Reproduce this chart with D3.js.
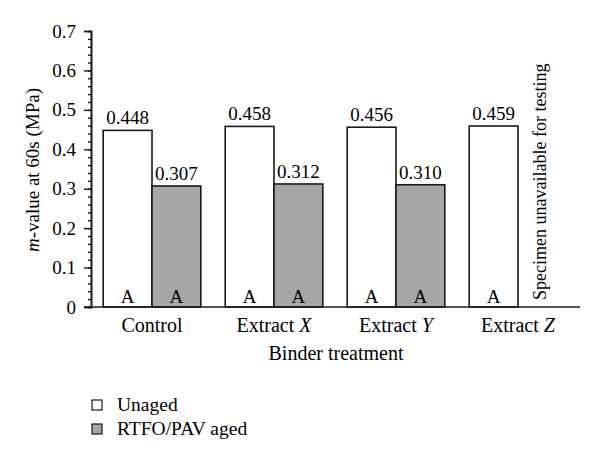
<!DOCTYPE html>
<html>
<head>
<meta charset="utf-8">
<script src="https://cdn.jsdelivr.net/npm/d3@7"></script>
<style>
  body { margin: 0; background: #fff; }
  text { font-family: "Liberation Serif", "DejaVu Serif", serif; fill: #000; }
</style>
</head>
<body>
<script>
// data
var treatments = ['Control', 'Extract X', 'Extract Y', 'Extract Z'];
var treatLetters = ['', 'X', 'Y', 'Z'];
var unaged = [0.448, 0.458, 0.456, 0.459];
var aged = [0.307, 0.312, 0.310, null];
var unagedGroup = ['A', 'A', 'A', 'A'];
var agedGroup = ['A', 'A', 'A', null];
var seriesNames = ['Unaged', 'RTFO/PAV aged'];
var seriesColors = ['#ffffff', '#a6a6a6'];
var yTicks = [0, 0.1, 0.2, 0.3, 0.4, 0.5, 0.6, 0.7];

var W = 600, H = 463;
var svg = d3.select('body').append('svg')
    .attr('width', W)
    .attr('height', H);

var x = d3.scaleBand()
    .domain(treatments)
    .range([91, 579])
    .paddingInner(0.2)
    .paddingOuter(0.1);

var xs = d3.scaleBand()
    .domain([0, 1])
    .range([0, x.bandwidth()]);

var y = d3.scaleLinear()
    .domain([0, 0.7])
    .range([307, 31]);

// bars
var rows = [];
treatments.forEach(function (t, i) {
    rows.push({ t: t, s: 0, v: unaged[i], g: unagedGroup[i] });
    if (aged[i] !== null) rows.push({ t: t, s: 1, v: aged[i], g: agedGroup[i] });
});

svg.selectAll('rect.bar').data(rows).enter().append('rect')
    .attr('class', 'bar')
    .attr('x', function (d) { return x(d.t) + xs(d.s); })
    .attr('y', function (d) { return y(d.v); })
    .attr('width', xs.bandwidth())
    .attr('height', function (d) { return y(0) - y(d.v); })
    .attr('fill', function (d) { return seriesColors[d.s]; })
    .attr('stroke', '#1a1a1a')
    .attr('stroke-width', 1.6);

svg.selectAll('text.val').data(rows).enter().append('text')
    .attr('x', function (d) { return x(d.t) + xs(d.s) + xs.bandwidth() / 2; })
    .attr('y', function (d) { return y(d.v) - 6; })
    .attr('text-anchor', 'middle')
    .style('font-size', '19px')
    .text(function (d) { return d3.format('.3f')(d.v); });

svg.selectAll('text.grp').data(rows).enter().append('text')
    .attr('x', function (d) { return x(d.t) + xs(d.s) + xs.bandwidth() / 2; })
    .attr('y', y(0) - 4)
    .attr('text-anchor', 'middle')
    .style('font-size', '19px')
    .text(function (d) { return d.g; });

// y axis
var yAxis = svg.append('g')
    .attr('transform', 'translate(91,0)')
    .call(d3.axisLeft(y).tickValues(d3.range(0, 0.7001, 0.02)).tickSize(3).tickFormat(''));
yAxis.append('g')
    .call(d3.axisLeft(y).tickValues(yTicks).tickSize(7)
        .tickFormat(function (d) { return d === 0 ? '0' : d3.format('.1f')(d); }));
svg.selectAll('.domain').attr('stroke', '#1a1a1a').attr('stroke-width', 1.6);
yAxis.selectAll('line').attr('stroke', '#1a1a1a').attr('stroke-width', 1.4);
yAxis.selectAll('text')
    .style('font-size', '19px')
    .attr('fill', '#000')
    .attr('dx', -5);

// baseline
svg.append('line')
    .attr('x1', 84).attr('x2', 580)
    .attr('y1', y(0)).attr('y2', y(0))
    .attr('stroke', '#1a1a1a')
    .attr('stroke-width', 1.6);

// category labels with italic letter
var cat = svg.selectAll('text.cat').data(treatments).enter().append('text')
    .attr('class', 'cat')
    .attr('x', function (d) { return x(d) + x.bandwidth() / 2; })
    .attr('y', 332)
    .attr('text-anchor', 'middle')
    .style('font-size', '20px');
cat.each(function (d, i) {
    var el = d3.select(this);
    if (treatLetters[i] === '') {
        el.text(d);
    } else {
        el.append('tspan').text('Extract ');
        el.append('tspan').attr('font-style', 'italic').text(treatLetters[i]);
    }
});

// note for missing bar
svg.append('text')
    .attr('transform', 'translate(546,300) rotate(-90)')
    .style('font-size', '18px')
    .text('Specimen unavailable for testing');

// axis titles
svg.append('text')
    .attr('x', 336).attr('y', 360)
    .attr('text-anchor', 'middle')
    .style('font-size', '20px')
    .text('Binder treatment');

var yt = svg.append('text')
    .attr('transform', 'translate(39,170) rotate(-90)')
    .attr('text-anchor', 'middle')
    .style('font-size', '19px');
yt.append('tspan').attr('font-style', 'italic').text('m');
yt.append('tspan').text('-value at 60s (MPa)');

// legend
var leg = svg.selectAll('g.leg').data(seriesNames).enter().append('g')
    .attr('transform', function (d, i) { return 'translate(92,' + (400 + i * 24) + ')'; });
leg.append('rect')
    .attr('width', 10).attr('height', 10)
    .attr('fill', function (d, i) { return seriesColors[i]; })
    .attr('stroke', '#1a1a1a')
    .attr('stroke-width', 1.2);
leg.append('text')
    .attr('x', 25).attr('y', 11)
    .style('font-size', '19.5px')
    .text(function (d) { return d; });
</script>
</body>
</html>
